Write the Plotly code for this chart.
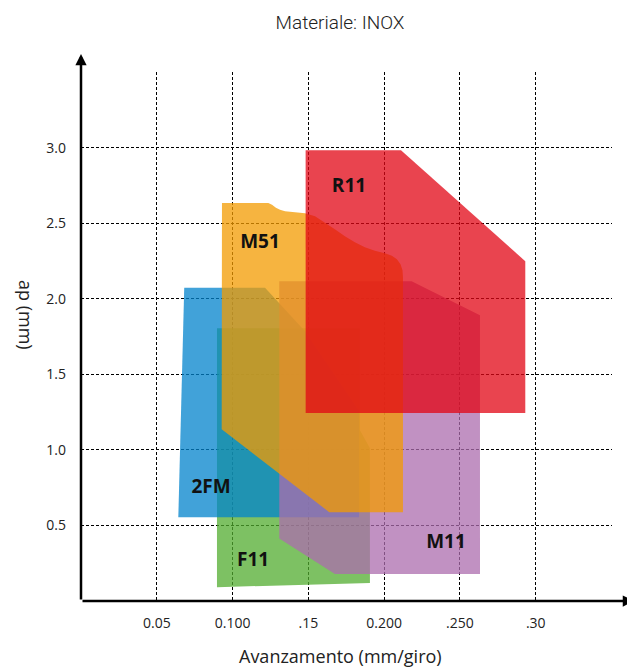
import plotly.graph_objects as go

# Operating ranges: feed (mm/giro) vs depth of cut ap (mm)
series_names = ["F11", "2FM", "M11", "M51", "R11"]

f11_x = [0.0897, 0.0897, 0.1840, 0.1840, 0.1906, 0.1906]
f11_y = [0.0915, 1.806, 1.806, 1.130, 1.011, 0.119]

fm2_x = [0.0642, 0.0681, 0.1214, 0.1478, 0.1834, 0.1834]
fm2_y = [0.555, 2.074, 2.074, 1.786, 1.262, 0.555]

m11_x = [0.1308, 0.1308, 0.2181, 0.2632, 0.2632, 0.1675]
m11_y = [0.414, 2.117, 2.117, 1.892, 0.179, 0.179]

m51_x = [0.0930, 0.1236, 0.1260, 0.1286, 0.1313, 0.1346, 0.1412, 0.1478, 0.1544,
         0.1609, 0.1675, 0.1741, 0.1807, 0.1873, 0.1939, 0.2005, 0.2051, 0.2084,
         0.2108, 0.2121, 0.2124, 0.2124, 0.1638, 0.0928]
m51_y = [2.636, 2.636, 2.624, 2.604, 2.591, 2.581, 2.575, 2.568, 2.548,
         2.508, 2.462, 2.416, 2.376, 2.343, 2.319, 2.303, 2.286, 2.263,
         2.230, 2.190, 2.144, 0.588, 0.588, 1.137]

r11_x = [0.1482, 0.1482, 0.2111, 0.2931, 0.2931]
r11_y = [1.245, 2.985, 2.985, 2.250, 1.245]

series_colors = ["rgba(82,172,47,0.75)", "rgba(2,131,204,0.75)",
                 "rgba(172,108,174,0.75)", "rgba(243,155,0,0.75)",
                 "rgba(226,6,20,0.75)"]

label_x = [0.1135, 0.0858, 0.2408, 0.1181, 0.1768]
label_y = [0.262, 0.746, 0.381, 2.372, 2.740]

x_tickvals = [0.05, 0.10, 0.15, 0.20, 0.25, 0.30, 0.35]
x_ticktext = ["0.05", "0.100", ".15", "0.200", ".250", ".30", ""]
y_tickvals = [0.5, 1.0, 1.5, 2.0, 2.5, 3.0, 3.5]
y_ticktext = ["0.5", "1.0", "1.5", "2.0", "2.5", "3.0", ""]

xs = [f11_x, fm2_x, m11_x, m51_x, r11_x]
ys = [f11_y, fm2_y, m11_y, m51_y, r11_y]

fig = go.Figure()
for name, x, y, c in zip(series_names, xs, ys, series_colors):
    fig.add_trace(go.Scatter(x=x + [x[0]], y=y + [y[0]], fill="toself", mode="lines",
                             line=dict(width=0, color=c), fillcolor=c,
                             name=name, hoverinfo="skip", showlegend=False))

fig.add_trace(go.Scatter(x=label_x, y=label_y, mode="text", text=series_names,
                         textposition="middle center",
                         textfont=dict(family="Open Sans", size=19, color="#111", weight=700),
                         showlegend=False, hoverinfo="skip", cliponaxis=False))

W, H = 627, 661
L, R, T, B = 73, 23, 64, 68
PW, PH = W - L - R, H - T - B
font_main = "Open Sans"
fig.update_layout(
    width=W, height=H,
    margin=dict(l=L, r=R, t=T, b=B, autoexpand=False),
    paper_bgcolor="white", plot_bgcolor="white",
    showlegend=False,
    title=dict(text="Materiale: INOX", x=(340 - 81) / PW, xref="paper", xanchor="center",
               y=1 - 14 / H, yref="container", yanchor="middle",
               font=dict(family="Roboto", size=19, color="#222", weight=300)),
    xaxis=dict(range=[0, 0.3503], tickmode="array", tickvals=x_tickvals, ticktext=x_ticktext,
               showgrid=True, gridcolor="#000", griddash="3px,2px", gridwidth=1,
               zeroline=False, showline=False, ticks="", ticklabelstandoff=12,
               tickfont=dict(family=font_main, size=14, color="#222")),
    yaxis=dict(range=[0, 3.503], tickmode="array", tickvals=y_tickvals, ticktext=y_ticktext,
               showgrid=True, gridcolor="#000", griddash="3px,2px", gridwidth=1,
               zeroline=False, showline=False, ticks="", ticklabelstandoff=14,
               tickfont=dict(family=font_main, size=14, color="#222")),
    annotations=[
        dict(x=(W - L) / PW, y=0, xref="paper", yref="paper", text="", showarrow=True,
             ax=-(W - L), ay=0, axref="pixel", ayref="pixel", arrowhead=2, arrowsize=0.9,
             arrowwidth=2.5, arrowcolor="#000", standoff=0),
        dict(x=0, y=(PH + T - 46) / PH, xref="paper", yref="paper", text="", showarrow=True,
             ax=0, ay=PH + T - 46, axref="pixel", ayref="pixel", arrowhead=2, arrowsize=0.9,
             arrowwidth=2.5, arrowcolor="#000", standoff=0),
        dict(x=(340 - 81) / PW, y=(PH + T - 648) / PH, xref="paper", yref="paper",
             text="Avanzamento (mm/giro)", showarrow=False, xanchor="center", yanchor="middle",
             font=dict(family=font_main, size=18, color="#222")),
        dict(x=(26 - 81) / PW, y=(PH + T - 307) / PH, xref="paper", yref="paper",
             text="ap (mm)", showarrow=False, textangle=90, xanchor="center", yanchor="middle",
             font=dict(family=font_main, size=18, color="#222")),
    ],
)

fig.write_html("out.html")
